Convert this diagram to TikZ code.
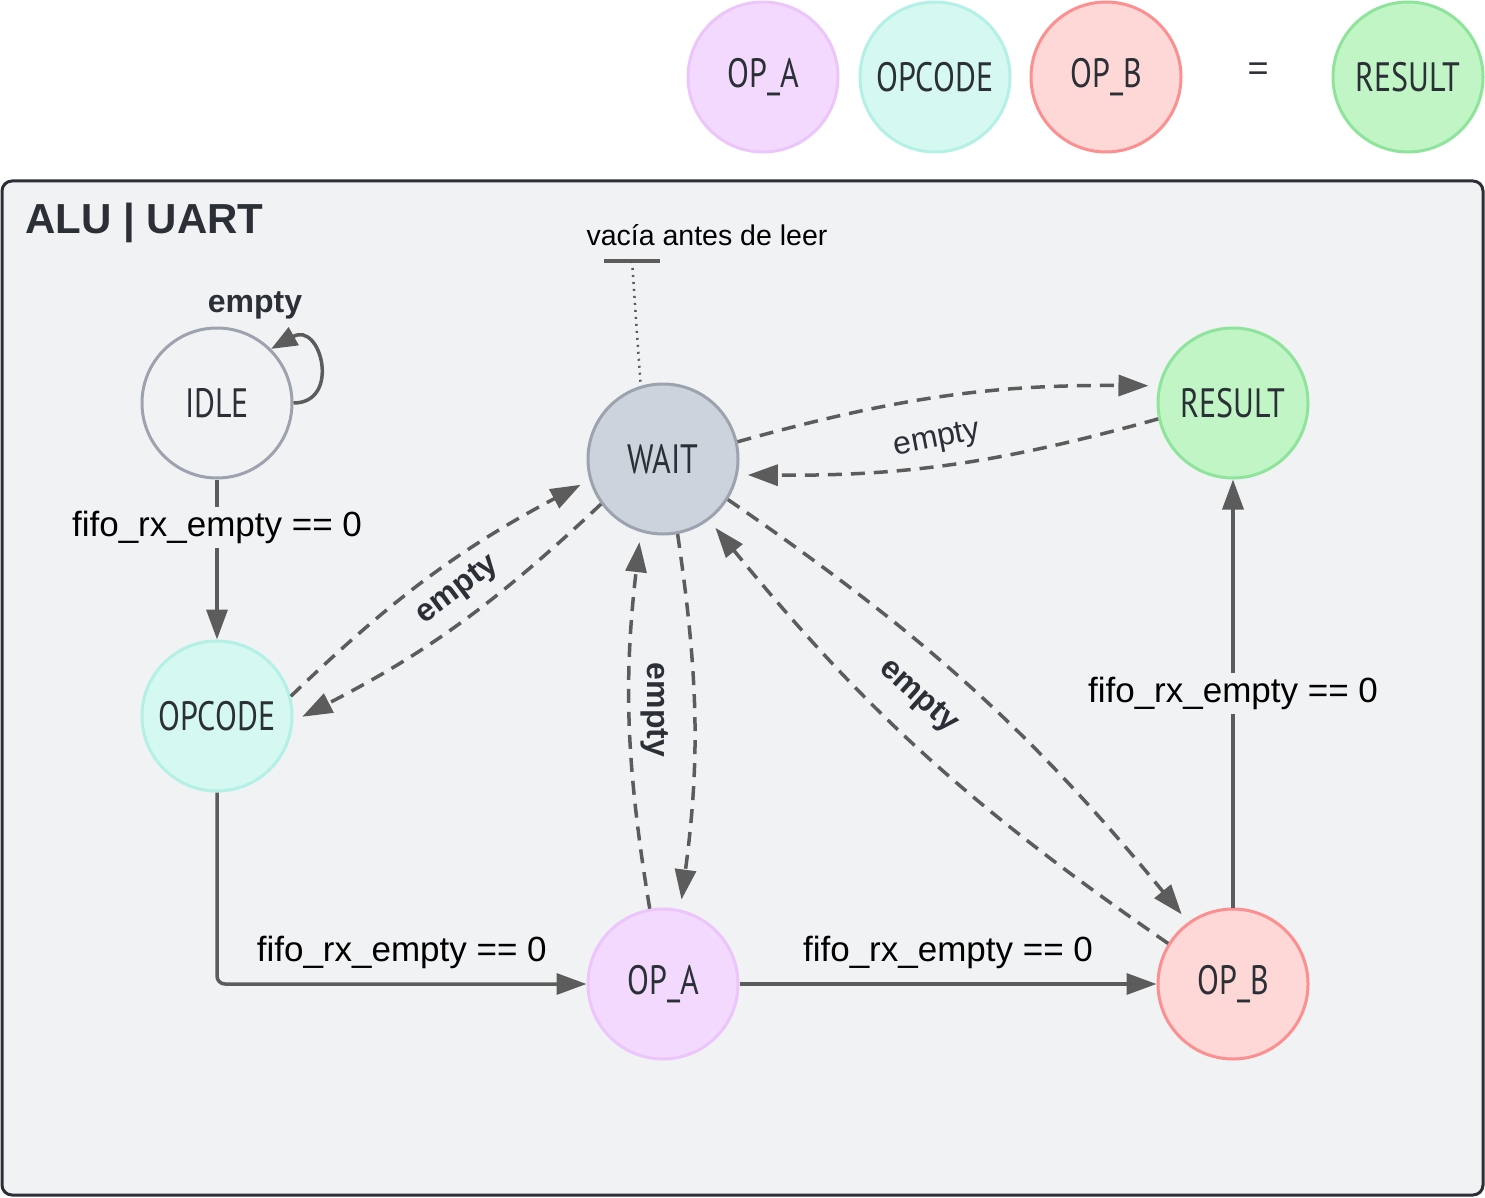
\documentclass[tikz,border=0pt]{standalone}
\usepackage{fontspec}
\setmainfont{Liberation Sans}
\newfontfamily\handfont[FakeStretch=0.78]{PT Sans}
\usetikzlibrary{arrows.meta,calc}
\definecolor{edgegray}{HTML}{5C5C5C}
\definecolor{framebg}{HTML}{F1F2F4}
\definecolor{framedraw}{HTML}{2B2F36}
\definecolor{textdark}{HTML}{2B2F36}
\definecolor{idledraw}{HTML}{9CA3AF}
\definecolor{waitfill}{HTML}{CDD3DC}
\definecolor{resfill}{HTML}{C1F5C6}
\definecolor{resdraw}{HTML}{8EE49A}
\definecolor{opcfill}{HTML}{D5F8F1}
\definecolor{opcdraw}{HTML}{B3F0E6}
\definecolor{opafill}{HTML}{F3D9FD}
\definecolor{opadraw}{HTML}{ECC5FB}
\definecolor{opbfill}{HTML}{FED7D7}
\definecolor{opbdraw}{HTML}{FC8F8F}

\begin{document}
\begin{tikzpicture}[x=1pt,y=-1pt,
  state/.style={circle,draw,line width=3pt,minimum size=150pt,inner sep=0pt,
    font=\handfont\fontsize{41}{44}\selectfont,text=textdark},
  idlestate/.style={state,draw=idledraw,fill=framebg},
  waitstate/.style={state,draw=idledraw,fill=waitfill},
  resstate/.style={state,draw=resdraw,fill=resfill},
  opcstate/.style={state,draw=opcdraw,fill=opcfill},
  opastate/.style={state,draw=opadraw,fill=opafill},
  opbstate/.style={state,draw=opbdraw,fill=opbfill},
  solidedge/.style={draw=edgegray,line width=3.5pt,-{Triangle[length=30pt,width=21pt]}},
  dashedge/.style={draw=edgegray,line width=3.5pt,dash pattern=on 14pt off 9pt,
    shorten >=10pt,-{Triangle[length=30pt,width=21pt]}},
  cond/.style={font=\fontsize{35}{38}\selectfont,text=black,fill=framebg,inner sep=4pt},
  emptylabel/.style={font=\bfseries\fontsize{32}{35}\selectfont,text=textdark,inner sep=1pt}]
\useasboundingbox (0,0) rectangle (1485,1198);

% legend
\node[opastate] (legopa) at (763,77) {OP\_A};
\node[opcstate] (legopc) at (935,77) {OPCODE};
\node[opbstate] (legopb) at (1106,77) {OP\_B};
\node[font=\fontsize{36}{38}\selectfont,text=textdark] (legeq) at (1258,72) {=};
\node[resstate] (legres) at (1408,77) {RESULT};

% cluster
\draw[draw=framedraw,fill=framebg,line width=3pt,rounded corners=10pt] (2,181) rectangle (1483,1195);
\node[anchor=west,font=\bfseries\fontsize{42}{46}\selectfont,text=textdark] (title) at (22,223) {ALU | UART};

% states
\node[idlestate] (idle) at (217,403) {IDLE};
\node[waitstate] (wait) at (663,459) {WAIT};
\node[resstate] (result) at (1233,403) {RESULT};
\node[opcstate] (opcode) at (217,716) {OPCODE};
\node[opastate] (opa) at (663,984) {OP\_A};
\node[opbstate] (opb) at (1233,984) {OP\_B};

% note on WAIT
\node[font=\fontsize{28.5}{31}\selectfont] (note) at (707,235) {vacía antes de leer};
\coordinate (notebar) at (632,261);
\draw[edgegray,line width=4pt] ($(notebar)+(-28,0)$) -- ($(notebar)+(28,0)$);
\draw[edgegray,line width=2.5pt,dash pattern=on 2pt off 5pt] (notebar) -- (wait.107);

% solid transitions
\draw[solidedge] (idle.south) -- (opcode.north)
  node[cond,pos=0.3] (c1) {fifo\_rx\_empty == 0};
\draw[solidedge,rounded corners=8pt] (opcode.south) |- (opa.west)
  node[cond,fill=none,pos=0.75,above=9pt] (c2) {fifo\_rx\_empty == 0};
\draw[solidedge] (opa.east) -- (opb.west)
  node[cond,fill=none,midway,above=9pt] (c3) {fifo\_rx\_empty == 0};
\draw[solidedge] (opb.north) -- (result.south)
  node[cond,midway] (c4) {fifo\_rx\_empty == 0};
\draw[solidedge,-{Triangle[length=26pt,width=20pt]}] (idle.east) .. controls +(48,0) and +(50,-28) .. (idle.45);
\node[emptylabel] (e0) at (255,305) {empty};

% back to WAIT when fifo is empty
\draw[dashedge] (opcode.15) to[bend left=8] (wait.196);
\draw[dashedge] (wait.216) to[bend left=8] (opcode.-4);
\node[emptylabel,rotate=37] (e1) at (458,590) {empty};
\draw[dashedge] (wait.281) to[bend left=8] (opa.77);
\draw[dashedge] (opa.100) to[bend left=8] (wait.253);
\node[emptylabel,rotate=-90] (e2) at (655,710) {empty};
\draw[dashedge] (wait.-32) to[bend left=8] (opb.126);
\draw[dashedge] (opb.148) to[bend left=8] (wait.-53);
\node[emptylabel,rotate=-42] (e3) at (918,697) {empty};
\draw[dashedge] (wait.13) to[bend left=8] (result.167);
\draw[dashedge] (result.192) to[bend left=8] (wait.-12);
\node[emptylabel,font=\fontsize{32}{35}\selectfont,rotate=11] (e4) at (937,440) {empty};
\end{tikzpicture}
\end{document}
